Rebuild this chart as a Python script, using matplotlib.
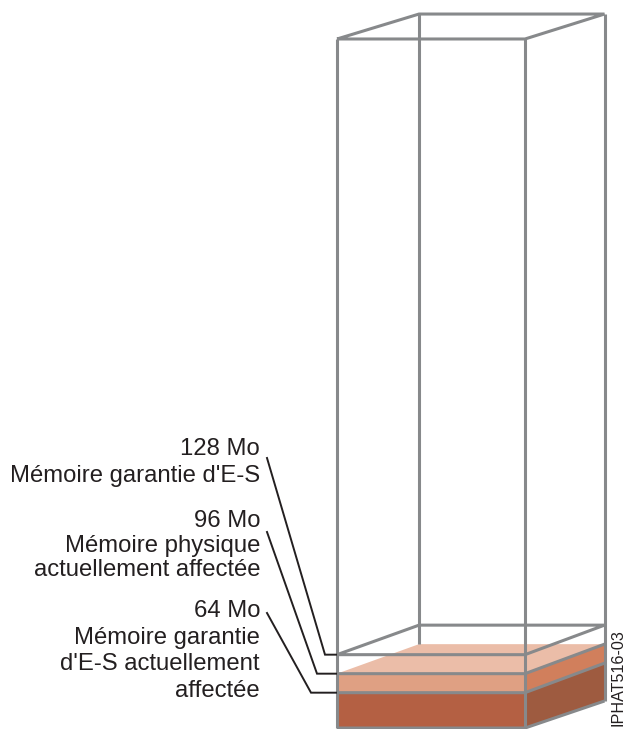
import matplotlib.pyplot as plt

levels = [64, 96, 128]
box_bottom = 4.5
box_top = 1164.5

# how far each level rises going to the back of the box, in Mo
rise_bottom = 45.5
rise_level = 49.7
rise_top = 42

level_labels = [
    ["128 Mo", "Mémoire garantie d'E-S"],
    ["96 Mo", "Mémoire physique", "actuellement affectée"],
    ["64 Mo", "Mémoire garantie", "d'E-S actuellement", "affectée"],
]
baselines = [[455, 482], [527, 552, 576], [617, 644, 670, 697]]
leader_starts = [458, 532, 613]
leader_bends = [325, 317, 311]
leader_levels = [128, 96, 64]

W, H = 627, 729
scale = 0.594
y0 = 730.7
xf0, xf1, xb0, xb1 = 337, 525, 419, 604.5

plt.rcParams["font.family"] = ["Liberation Sans", "DejaVu Sans"]
fig = plt.figure(figsize=(W / 100, H / 100), dpi=100)
ax = fig.add_axes([0, 0, 1, 1])
ax.set_xlim(0, W)
ax.set_ylim((y0 - H) / scale, y0 / scale)
ax.axis("off")

grey = "#87898B"
ink = "#231F20"


def y_px(px):
    return (y0 - px) / scale


def outline(xs, ys):
    ax.plot(xs, ys, color=grey, lw=2.2, solid_capstyle="butt", solid_joinstyle="miter")


# filled layers
b, m1, m2 = box_bottom, levels[0], levels[1]
ax.fill([xf0, xf1, xf1, xf0], [b, b, m1, m1], color="#B46043", lw=0)
ax.fill([xf1, xb1, xb1, xf1], [b, b + rise_bottom, m1 + rise_level, m1], color="#9E5B40", lw=0)
ax.fill([xf0, xf1, xf1, xf0], [m1, m1, m2, m2], color="#DFA083", lw=0)
ax.fill([xf1, xb1, xb1, xf1], [m1, m1 + rise_level, m2 + rise_level, m2], color="#D17F5C", lw=0)
ax.fill([xf0, xf1, xb1, xb0], [m2, m2, m2 + rise_level, m2 + rise_level], color="#EBBDA8", lw=0)

# box outline
top_back = box_top + rise_top
top128 = levels[2] + rise_level
outline([xb0, xb0], [m2 + rise_level, top_back])
outline([xb1, xb1], [b + rise_bottom, top_back])
outline([xf0, xf0], [b, box_top])
outline([xf1, xf1], [b, box_top])
outline([xf0, xf1, xb1, xb0, xf0], [box_top, box_top, top_back, top_back, box_top])
outline([xf0, xf1, xb1, xb0, xf0], [levels[2], levels[2], top128, top128, levels[2]])
for v in levels[:2]:
    outline([xf0, xf1, xb1], [v, v, v + rise_level])
outline([xf0, xf1, xb1], [b, b, b + rise_bottom])

# leader lines
for start, bend, v in zip(leader_starts, leader_bends, leader_levels):
    ax.plot([267, bend, xf0 - 1], [y_px(start), v, v], color=ink, lw=1.4, solid_joinstyle="miter")

# labels
for lines, ys in zip(level_labels, baselines):
    for line, y in zip(lines, ys):
        ax.text(260, y_px(y), line, ha="right", va="baseline", fontsize=17.2, color=ink)

ax.text(618.5, y_px(726.5), "IPHAT516-03", rotation=90, ha="center", va="bottom", fontsize=11.6, color=ink)

fig.savefig("out.png", dpi=100)
